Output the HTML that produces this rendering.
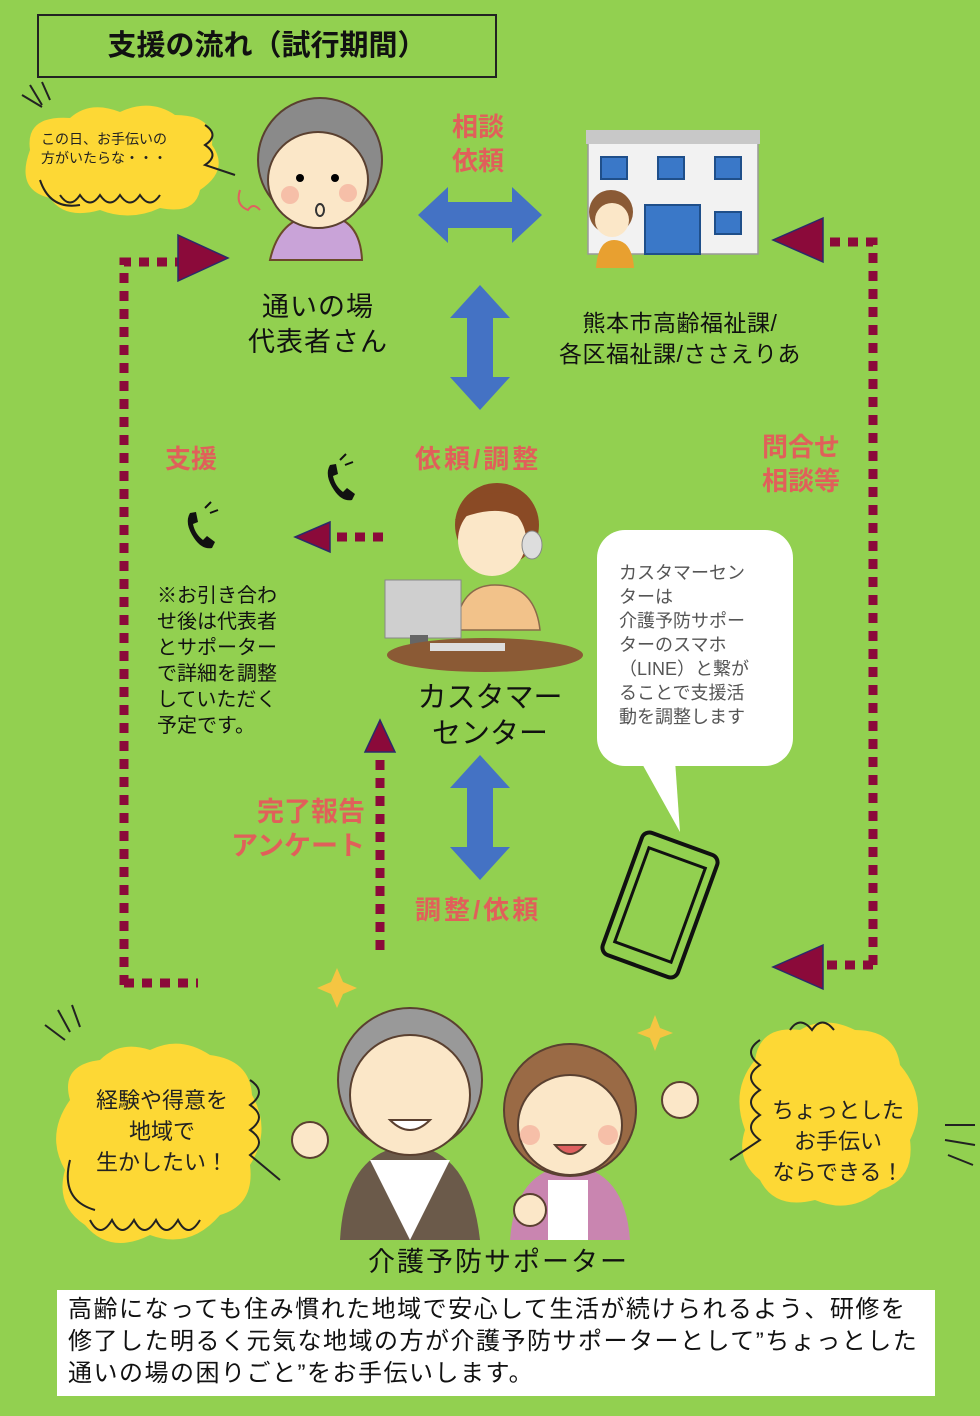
<!DOCTYPE html>
<html><head><meta charset="utf-8"><style>
body{margin:0;background:#92d050;}
#c{position:relative;width:980px;height:1416px;overflow:hidden;background:#92d050;font-family:"Liberation Sans","Noto Sans CJK JP",sans-serif;}
.t{position:absolute;white-space:nowrap;}
.p{color:#e0605a;font-weight:bold;font-size:26px;line-height:34px;}
svg{position:absolute;left:0;top:0;}
</style></head><body><div id="c">
<svg width="980" height="1416" viewBox="0 0 980 1416">
<rect x="38" y="15" width="458" height="62" fill="none" stroke="#222" stroke-width="2"/>
<g stroke="#8b0a3a" stroke-width="9" stroke-dasharray="10 8" fill="none">
<path d="M124 985 V262 H178"/>
<path d="M124 983 H198"/>
<path d="M873 965 V242 H822"/>
<path d="M873 965 H822"/>
<path d="M383 537 H330"/>
<path d="M380 950 V752"/>
</g>
<g fill="#8b0a3a" stroke="#2a2a6a" stroke-width="1.5">
<polygon points="178,235 228,258 178,281"/>
<polygon points="823,218 773,240 823,262"/>
<polygon points="823,945 773,967 823,989"/>
<polygon points="330,522 295,537 330,552"/>
<polygon points="365,752 380,720 395,752"/>
</g>
<g fill="#4472c4">
<polygon points="418,215 448,187 448,202 512,202 512,187 542,215 512,243 512,228 448,228 448,243"/>
<polygon points="480,285 510,318 493,318 493,377 510,377 480,410 450,377 467,377 467,318 450,318"/>
<polygon points="480,755 510,788 493,788 493,847 510,847 480,880 450,847 467,847 467,788 450,788"/>
</g>
<path d="M30 150 Q25 115 70 118 Q90 100 120 112 Q150 98 175 115 Q215 115 212 145 Q230 170 200 190 Q195 215 160 208 Q130 222 100 210 Q65 220 50 198 Q15 190 30 150Z" fill="#fdd835"/>
<path d="M40 180 Q50 210 80 205 M60 195 q10 15 20 0 q10 15 20 0 q10 15 20 0 q10 15 20 0 q10 15 20 0 M205 125 q15 10 0 20 q15 10 0 20 l30 10" stroke="#222" stroke-width="2" fill="none"/>
<path d="M22 95 l20 12 M30 85 l12 20 M42 82 l8 18" stroke="#222" stroke-width="2"/>
<path d="M270 260 Q280 215 320 215 Q360 215 362 260 Z" fill="#c9a3d8" stroke="#6b4a2a" stroke-width="2"/>
<circle cx="320" cy="160" r="62" fill="#8a8a8a" stroke="#5a4030" stroke-width="2"/>
<ellipse cx="318" cy="180" rx="50" ry="48" fill="#fbe7c8" stroke="#5a4030" stroke-width="2"/>
<path d="M270 150 Q300 110 360 140 Q340 105 300 110 Z" fill="#8a8a8a"/>
<circle cx="300" cy="178" r="4"/><circle cx="335" cy="178" r="4"/>
<circle cx="290" cy="195" r="9" fill="#f6bfa8"/><circle cx="348" cy="193" r="9" fill="#f6bfa8"/>
<ellipse cx="320" cy="210" rx="4" ry="6" fill="none" stroke="#333" stroke-width="2"/>
<path d="M240 190 q-5 15 8 20 q5 -8 12 0" stroke="#e06060" stroke-width="2" fill="none"/>
<rect x="588" y="132" width="170" height="122" fill="#f2f2f2" stroke="#999" stroke-width="1.5"/>
<rect x="586" y="130" width="174" height="14" fill="#c8c8c8"/>
<g fill="#3a78c8" stroke="#1f4f8a" stroke-width="2">
<rect x="601" y="157" width="26" height="22"/><rect x="658" y="157" width="26" height="22"/><rect x="715" y="157" width="26" height="22"/>
<rect x="715" y="212" width="26" height="22"/><rect x="645" y="205" width="55" height="49"/>
</g>
<circle cx="611" cy="212" r="22" fill="#8a5a35"/><ellipse cx="612" cy="220" rx="17" ry="17" fill="#fbe7c8"/>
<path d="M596 268 Q598 240 614 240 Q632 240 634 268Z" fill="#e8a030"/>
<g fill="#111">
<path d="M330 465 q-6 10 4 25 q8 12 18 10 l3 -6 l-8 -6 l-4 4 q-8 -6 -10 -16 l5 -2 l-2 -10 Z"/>
<path d="M190 513 q-6 10 4 25 q8 12 18 10 l3 -6 l-8 -6 l-4 4 q-8 -6 -10 -16 l5 -2 l-2 -10 Z"/>
</g>
<path d="M340 460 l6 -6 M345 465 l8 -3 M205 508 l6 -6 M210 513 l8 -3" stroke="#111" stroke-width="2"/>
<path d="M455 630 Q460 585 495 585 Q535 585 540 630 Z" fill="#f2c28a" stroke="#8a6a4a" stroke-width="1.5"/>
<circle cx="497" cy="525" r="42" fill="#8a4a25"/>
<ellipse cx="492" cy="540" rx="34" ry="36" fill="#fbe7c8"/>
<path d="M455 520 Q470 485 520 495 Q540 510 538 540 Q520 500 470 515Z" fill="#8a4a25"/>
<ellipse cx="532" cy="545" rx="10" ry="14" fill="#ddd" stroke="#888"/>
<rect x="385" y="580" width="76" height="58" fill="#cfcfcf" stroke="#888"/>
<rect x="410" y="635" width="18" height="25" fill="#666"/>
<ellipse cx="485" cy="655" rx="98" ry="17" fill="#8b5a35"/>
<rect x="430" y="643" width="75" height="8" fill="#ddd"/>
<path d="M640 760 L680 832 L675 760 Z" fill="#fff"/>
<rect x="597" y="530" width="196" height="236" rx="28" fill="#fff"/>
<g transform="rotate(20 660 905)"><rect x="620" y="840" width="80" height="130" rx="8" fill="none" stroke="#111" stroke-width="4"/><rect x="630" y="855" width="60" height="100" fill="none" stroke="#111" stroke-width="3"/></g>
<path d="M70 1100 Q60 1065 100 1060 Q120 1040 150 1050 Q180 1035 210 1055 Q250 1060 252 1095 Q272 1130 250 1165 Q255 1205 220 1215 Q190 1250 150 1235 Q110 1255 85 1225 Q55 1205 65 1170 Q45 1135 70 1100Z" fill="#fdd835"/>
<path d="M70 1160 Q60 1200 95 1210 M90 1220 q10 20 22 0 q10 20 22 0 q10 20 22 0 q10 20 22 0 q10 20 22 0 M250 1080 q18 12 0 25 q18 12 0 25 q18 12 0 25 l30 25" stroke="#222" stroke-width="2" fill="none"/>
<path d="M45 1025 l20 15 M58 1010 l12 22 M72 1005 l8 22" stroke="#222" stroke-width="2"/>
<path d="M755 1060 Q760 1025 800 1030 Q825 1015 855 1030 Q895 1030 900 1065 Q930 1100 910 1140 Q915 1180 880 1190 Q850 1215 815 1200 Q775 1210 760 1180 Q735 1160 745 1130 Q730 1090 755 1060Z" fill="#fdd835"/>
<path d="M760 1040 q-18 12 0 25 q-18 12 0 25 q-18 12 0 25 q-18 12 0 25 l-30 20 M790 1030 q10 -15 22 0 q10 -15 22 0" stroke="#222" stroke-width="2" fill="none"/>
<path d="M945 1125 l30 0 M945 1140 l30 5 M948 1155 l25 10" stroke="#222" stroke-width="2"/>
<g fill="#f5c542"><polygon points="337,968 343,982 357,988 343,994 337,1008 331,994 317,988 331,982"/><polygon points="655,1015 660,1028 673,1033 660,1038 655,1051 650,1038 637,1033 650,1028"/></g>
<path d="M340 1240 Q345 1150 410 1145 Q470 1150 480 1240Z" fill="#6b5a4a"/>
<path d="M370 1160 L410 1240 L450 1160Z" fill="#fff"/>
<circle cx="410" cy="1080" r="72" fill="#999" stroke="#5a4030" stroke-width="2"/>
<ellipse cx="410" cy="1095" rx="60" ry="60" fill="#fbe7c8" stroke="#5a4030" stroke-width="2"/>
<path d="M390 1120 q20 20 40 0 Z" fill="#fff" stroke="#5a4030" stroke-width="2"/>
<circle cx="310" cy="1140" r="18" fill="#fbe7c8" stroke="#5a4030" stroke-width="2"/>
<path d="M510 1240 Q515 1170 570 1165 Q625 1170 630 1240Z" fill="#c985b0"/>
<rect x="548" y="1180" width="40" height="60" fill="#fff"/>
<circle cx="570" cy="1110" r="66" fill="#9a6a45" stroke="#5a4030" stroke-width="2"/>
<ellipse cx="570" cy="1125" rx="52" ry="50" fill="#fbe7c8" stroke="#5a4030" stroke-width="2"/>
<circle cx="530" cy="1135" r="10" fill="#f6bfa8"/><circle cx="608" cy="1135" r="10" fill="#f6bfa8"/>
<path d="M555 1145 q15 18 30 0Z" fill="#e06060" stroke="#5a4030" stroke-width="2"/>
<circle cx="680" cy="1100" r="18" fill="#fbe7c8" stroke="#5a4030" stroke-width="2"/>
<circle cx="530" cy="1210" r="16" fill="#fbe7c8" stroke="#5a4030" stroke-width="2"/>
<rect x="57" y="1290" width="878" height="106" fill="#fff"/>
</svg>
<div class="t" style="left:38px;top:22px;width:458px;text-align:center;font-size:29px;font-weight:bold;color:#111;">支援の流れ（試行期間）</div>
<div class="t" style="left:41px;top:130px;font-size:14px;line-height:19px;color:#222;">この日、お手伝いの<br>方がいたらな・・・</div>
<div class="t p" style="left:452px;top:110px;">相談<br>依頼</div>
<div class="t" style="left:218px;top:290px;width:200px;text-align:center;font-size:27px;line-height:35px;letter-spacing:1px;color:#111;">通いの場<br>代表者さん</div>
<div class="t" style="left:530px;top:308px;width:300px;text-align:center;font-size:23px;line-height:31px;letter-spacing:0.5px;color:#111;">熊本市高齢福祉課/<br>各区福祉課/ささえりあ</div>
<div class="t p" style="left:762px;top:430px;">問合せ<br>相談等</div>
<div class="t p" style="left:165px;top:442px;">支援</div>
<div class="t p" style="left:415px;top:442px;letter-spacing:3px;">依頼/調整</div>
<div class="t" style="left:157px;top:583px;font-size:20px;line-height:26px;color:#111;">※お引き合わ<br>せ後は代表者<br>とサポーター<br>で詳細を調整<br>していただく<br>予定です。</div>
<div class="t" style="left:400px;top:680px;width:180px;text-align:center;font-size:29px;line-height:36px;color:#111;">カスタマー<br>センター</div>
<div class="t" style="left:619px;top:561px;font-size:18px;line-height:24px;color:#555;">カスタマーセン<br>ターは<br>介護予防サポー<br>ターのスマホ<br>（LINE）と繋が<br>ることで支援活<br>動を調整します</div>
<div class="t p" style="left:215px;top:795px;width:150px;text-align:right;font-size:27px;">完了報告<br>アンケート</div>
<div class="t p" style="left:415px;top:893px;letter-spacing:3px;">調整/依頼</div>
<div class="t" style="left:62px;top:1085px;width:200px;text-align:center;font-size:22px;line-height:31px;color:#222;">経験や得意を<br>地域で<br>生かしたい！</div>
<div class="t" style="left:748px;top:1095px;width:180px;text-align:center;font-size:22px;line-height:31px;color:#222;">ちょっとした<br>お手伝い<br>ならできる！</div>
<div class="t" style="left:368px;top:1240px;font-size:27px;letter-spacing:2px;color:#111;">介護予防サポーター</div>
<div class="t" style="left:68px;top:1294px;font-size:24px;line-height:32px;letter-spacing:1.5px;color:#111;">高齢になっても住み慣れた地域で安心して生活が続けられるよう、研修を<br>修了した明るく元気な地域の方が介護予防サポーターとして”ちょっとした<br>通いの場の困りごと”をお手伝いします。</div>
</div></body></html>
